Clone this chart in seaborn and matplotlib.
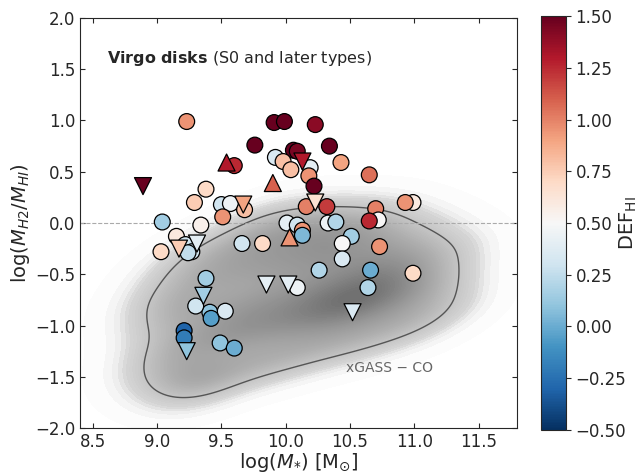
import numpy as np
import pandas as pd
import seaborn as sns
import matplotlib.pyplot as plt
from matplotlib.colors import LinearSegmentedColormap, Normalize
from matplotlib.cm import ScalarMappable

# Virgo disks: detections (circles)
det_mass = [9.23, 9.76, 9.91, 9.99, 10.23, 10.06, 10.09, 10.34, 9.92, 9.98,
            10.04, 10.19, 10.18, 10.22, 10.43, 10.65, 9.60, 9.38, 9.29, 9.50,
            9.57, 9.68, 9.51, 10.16, 10.32, 10.70, 10.72, 10.65, 10.99, 10.93,
            9.04, 9.34, 9.15, 9.03, 9.22, 9.27, 9.24, 9.66, 9.82, 10.01,
            10.09, 10.13, 10.13, 10.33, 10.39, 10.51, 10.44, 10.44, 10.73, 10.26,
            10.66, 10.64, 10.99, 9.38, 9.41, 9.42, 9.30, 9.53, 10.09, 9.21,
            9.21, 9.49, 9.60]
det_ratio = [0.99, 0.76, 0.98, 0.99, 0.96, 0.71, 0.70, 0.75, 0.64, 0.60,
             0.52, 0.54, 0.46, 0.36, 0.59, 0.47, 0.56, 0.33, 0.20, 0.18,
             0.19, 0.13, 0.06, 0.16, 0.16, 0.14, 0.03, 0.02, 0.20, 0.20,
             0.01, -0.02, -0.13, -0.28, -0.21, -0.28, -0.29, -0.20, -0.20, 0.00,
             -0.02, -0.07, -0.12, 0.00, 0.01, -0.13, -0.20, -0.35, -0.23, -0.46,
             -0.46, -0.63, -0.49, -0.54, -0.87, -0.93, -0.81, -0.86, -0.63, -1.05,
             -1.12, -1.17, -1.22]
det_def = [0.95, 1.50, 1.50, 1.50, 1.40, 1.50, 1.45, 1.50, 0.35, 0.80,
           0.80, 0.40, 0.95, 1.50, 0.90, 1.05, 1.25, 0.70, 0.75, 0.30,
           0.45, 0.80, 0.95, 1.00, 1.20, 1.00, 0.50, 1.25, 0.60, 0.95,
           0.15, 0.55, 0.60, 0.70, 0.30, 0.30, 0.25, 0.30, 0.70, 0.40,
           0.30, 0.95, 0.05, 0.45, 0.20, 0.15, 0.50, 0.35, 0.95, 0.20,
           0.00, 0.20, 0.70, 0.15, 0.10, -0.05, 0.30, 0.35, 0.45, -0.30,
           -0.20, 0.10, 0.00]

# upper limits on H2 (down triangles)
ul_mass = [8.89, 10.13, 9.67, 10.23, 9.17, 9.31, 9.36, 9.85, 10.02, 10.52, 9.23]
ul_ratio = [0.36, 0.60, 0.18, 0.20, -0.25, -0.20, -0.71, -0.60, -0.60, -0.87, -1.25]
ul_def = [1.50, 1.30, 0.90, 0.65, 0.75, 0.40, 0.15, 0.40, 0.40, 0.35, 0.10]

# lower limits (up triangles)
ll_mass = [9.54, 9.90, 10.03]
ll_ratio = [0.59, 0.39, -0.14]
ll_def = [1.30, 1.10, 0.95]

# xGASS-CO comparison sample (approximate distribution)
xg_mass = [9.05, 9.07, 9.06, 9.10,
           9.20, 9.22, 9.21, 9.19, 9.30,
           9.40, 9.42, 9.38, 9.41, 9.39,
           9.60, 9.58, 9.62, 9.61, 9.59,
           9.80, 9.82, 9.78, 9.81, 9.79, 9.80,
           10.00, 10.02, 9.98, 10.01, 10.03, 10.00,
           10.20, 10.18, 10.22, 10.19, 10.21, 10.20,
           10.40, 10.42, 10.38, 10.41, 10.39, 10.40,
           10.60, 10.58, 10.62, 10.61, 10.59, 10.60,
           10.80, 10.82, 10.78, 10.81, 10.79,
           11.00, 11.02, 10.98, 11.01,
           11.20, 11.18, 11.21,
           9.60, 9.90, 10.20, 10.50, 10.80, 10.35, 10.65]
xg_ratio = [-1.30, -1.00, -0.75, -1.45,
            -1.50, -1.15, -0.80, -0.50, -1.60,
            -1.50, -1.15, -0.85, -0.55, -0.30,
            -1.40, -1.10, -0.80, -0.50, -0.25,
            -1.35, -1.05, -0.75, -0.45, -0.25, -0.05,
            -1.30, -1.00, -0.70, -0.45, -0.20, 0.00,
            -1.20, -0.90, -0.65, -0.40, -0.20, 0.00,
            -1.15, -0.85, -0.60, -0.40, -0.20, 0.00,
            -1.10, -0.80, -0.60, -0.40, -0.20, 0.00,
            -1.00, -0.75, -0.50, -0.30, -0.05,
            -0.95, -0.65, -0.40, -0.15,
            -0.80, -0.55, -0.30,
            -1.00, -0.90, -0.80, -0.70, -0.60, -0.90, -0.75]

det = pd.DataFrame({"mass": det_mass, "ratio": det_ratio, "def": det_def})
ul = pd.DataFrame({"mass": ul_mass, "ratio": ul_ratio, "def": ul_def})
ll = pd.DataFrame({"mass": ll_mass, "ratio": ll_ratio, "def": ll_def})
xg = pd.DataFrame({"mass": xg_mass, "ratio": xg_ratio})

sns.set_style("ticks")
plt.rcParams['font.family'] = ['DejaVu Sans']

fig = plt.figure(figsize=(6.4, 4.73), dpi=100)
ax = fig.add_axes([0.125, 0.095, 0.683, 0.867])
cax = fig.add_axes([0.845, 0.091, 0.039, 0.875])

grey = LinearSegmentedColormap.from_list(
    "g", [(0.0, "white"), (0.06, "#efefef"), (0.12, "#d4d4d4"),
          (0.45, "#adadad"), (1.0, "#707070")])
sns.kdeplot(data=xg, x="mass", y="ratio", fill=True, cmap=grey, levels=100,
            thresh=0.002, bw_adjust=0.8, cut=4, ax=ax, zorder=0)
sns.kdeplot(data=xg, x="mass", y="ratio", levels=[0.12], color="#555555",
            linewidths=1, bw_adjust=0.8, ax=ax, zorder=1)

ax.axhline(0, color="#aaaaaa", ls="--", lw=0.8, zorder=2)

norm = Normalize(-0.5, 1.5)
kw = dict(palette="RdBu_r", hue_norm=(-0.5, 1.5), legend=False,
          edgecolor="black", linewidth=0.9, ax=ax, zorder=3)
sns.scatterplot(data=det, x="mass", y="ratio", hue="def", marker="o", s=130, **kw)
sns.scatterplot(data=ul, x="mass", y="ratio", hue="def", marker="v", s=150, **kw)
sns.scatterplot(data=ll, x="mass", y="ratio", hue="def", marker="^", s=150, **kw)

ax.text(8.61, 1.6, r"$\bf{Virgo\ disks}$ (S0 and later types)", fontsize=11.5,
        va="center")
ax.text(10.47, -1.41, "xGASS \u2212 CO", fontsize=10, color="#666666", va="center")

ax.set_xlim(8.4, 11.8)
ax.set_ylim(-2.0, 2.0)
ax.set_xticks([8.5, 9.0, 9.5, 10.0, 10.5, 11.0, 11.5])
ax.set_yticks(np.arange(-2.0, 2.01, 0.5))
ax.tick_params(direction="in", top=True, right=True, labelsize=12)
ax.set_xlabel(r"log($M_{*}$) [M$_{\odot}$]", fontsize=14, labelpad=0)
ax.set_ylabel(r"log($M_{H2}/M_{HI}$)", fontsize=14, labelpad=2)

cb_ticks = [-0.5, -0.25, 0, 0.25, 0.5, 0.75, 1.0, 1.25, 1.5]
cb = fig.colorbar(ScalarMappable(norm=norm, cmap="RdBu_r"), cax=cax)
cb.set_ticks(cb_ticks)
cb.ax.set_yticklabels([("%.2f" % t).replace("-", "\u2212") for t in cb_ticks])
cb.ax.tick_params(labelsize=12)
cb.set_label(r"DEF$_{\rm HI}$", fontsize=14)
cb.ax.yaxis.set_label_coords(3.1, 0.5)

fig.savefig("out.png", dpi=100)
